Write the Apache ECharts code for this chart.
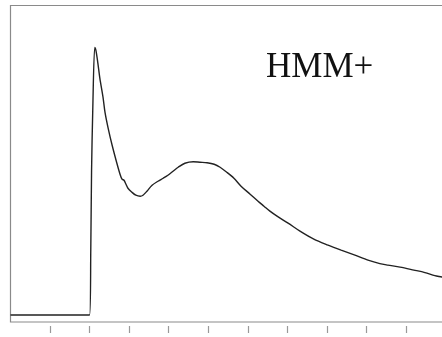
<!DOCTYPE html>
<html><head><meta charset="utf-8">
<script src="https://cdn.jsdelivr.net/npm/echarts@6/dist/echarts.min.js"></script>
<style>html,body{margin:0;padding:0;background:#fff}#c{width:442px;height:337px}</style>
</head><body><div id="c"></div>
<script>
const xValues = [-1.0, 1.0, 1.03, 1.05, 1.08, 1.13, 1.16, 1.21, 1.26, 1.34, 1.39, 1.47, 1.57, 1.69, 1.77, 1.82, 1.87, 1.92, 1.97, 2.07, 2.17, 2.28, 2.35, 2.45, 2.58, 2.73, 2.86, 2.98, 3.11, 3.24, 3.41, 3.62, 3.79, 3.97, 4.15, 4.30, 4.47, 4.65, 4.83, 5.06, 5.26, 5.41, 5.56, 5.74, 6.02, 6.32, 6.67, 7.03, 7.36, 7.71, 8.04, 8.34, 8.54, 8.85, 9.20, 9.48, 9.73, 9.91, 10.0];
const yValues = [7, 7, 72, 152, 212, 275, 272, 259, 244, 225, 210, 194, 177, 159, 148, 143, 142, 138, 134, 130, 127, 126, 127, 131, 137, 141, 144, 147, 151, 155, 159, 160.5, 160, 159.5, 158, 155, 150, 144, 136, 128, 121, 116, 111, 106, 99, 91, 83, 77, 72, 67, 62, 58.5, 57, 55, 52, 49.5, 46.5, 45, 44];
const tickValues = [0, 1, 2, 3, 4, 5, 6, 7, 8, 9];
const label = 'HMM+';

const chart = echarts.init(document.getElementById('c'), null, {renderer: 'canvas'});
chart.setOption({
  animation: false,
  backgroundColor: '#fff',
  grid: {left: 10.5, top: 5.5, width: 435, height: 316.5, outerBoundsMode: 'none', containLabel: false, show: true, borderColor: '#8a8a8a', borderWidth: 1.2, backgroundColor: 'transparent'},
  xAxis: [
    {type: 'value', min: -1, max: 10, interval: 1, axisLine: {show: false}, axisTick: {show: false}, axisLabel: {show: false}, splitLine: {show: false}},
    {type: 'value', position: 'bottom', offset: 4, min: -1, max: 10, interval: 1,
     axisLine: {show: false}, splitLine: {show: false}, axisLabel: {show: false},
     axisTick: {show: true, length: 7, customValues: tickValues, lineStyle: {color: '#999', width: 1.2}}}
  ],
  yAxis: {type: 'value', min: 0, max: 317, axisLine: {show: false}, axisTick: {show: false}, axisLabel: {show: false}, splitLine: {show: false}},
  series: [{
    type: 'line', xAxisIndex: 0, showSymbol: false, smooth: 0.3,
    lineStyle: {color: '#222', width: 1.4},
    data: xValues.map((x, i) => [x, yValues[i]])
  }],
  graphic: [{type: 'text', style: {text: label, x: 266, y: 68, font: '35px "Liberation Serif"', fill: '#111', verticalAlign: 'middle'}}]
});
</script></body></html>
